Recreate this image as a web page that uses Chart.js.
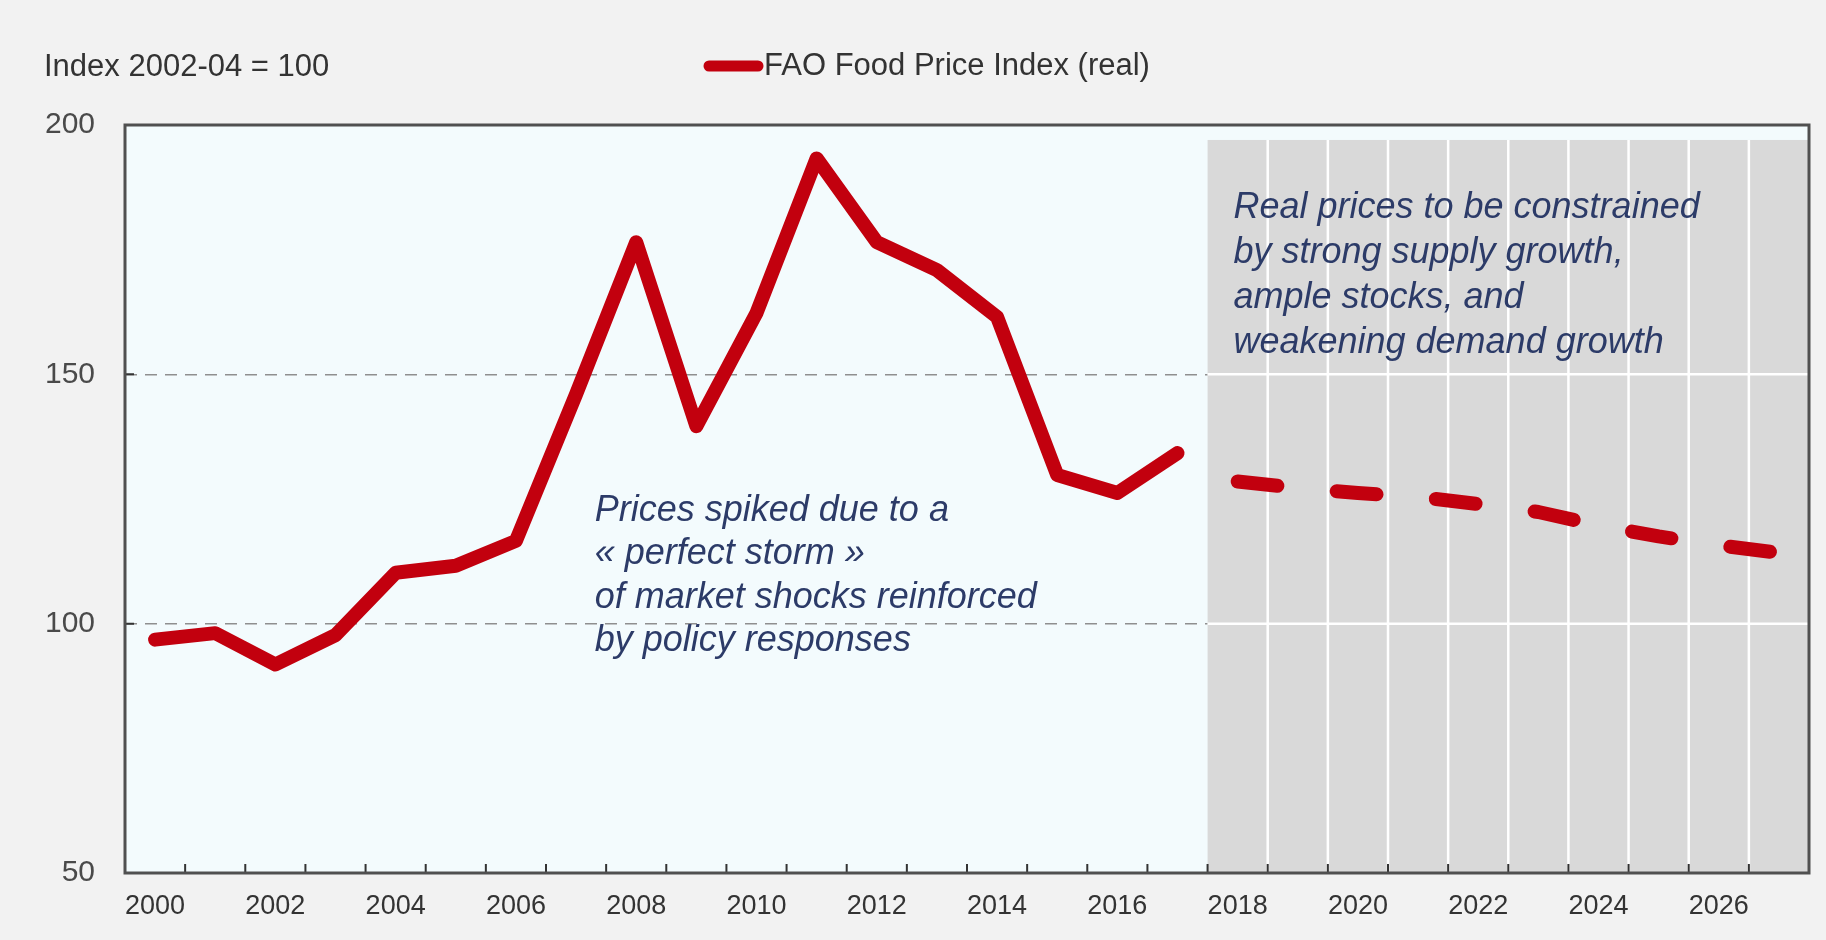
<!DOCTYPE html>
<html>
<head>
<meta charset="utf-8">
<script src="https://cdn.jsdelivr.net/npm/chart.js@4/dist/chart.umd.min.js"></script>
<style>
  html, body { margin: 0; padding: 0; background: #f2f2f2; }
  #wrap { width: 1826px; height: 940px; position: relative; }
</style>
</head>
<body>
<div id="wrap"><canvas id="chart"></canvas></div>
<script>
// years on the x axis (one band each)
const years = [
  "2000", "2001", "2002", "2003", "2004", "2005", "2006", "2007", "2008", "2009",
  "2010", "2011", "2012", "2013", "2014", "2015", "2016", "2017", "2018", "2019",
  "2020", "2021", "2022", "2023", "2024", "2025", "2026", "2027",
];
// only every second year gets a label
const tickLabels = [
  "2000", "2002", "2004", "2006", "2008", "2010", "2012",
  "2014", "2016", "2018", "2020", "2022", "2024", "2026",
];

// FAO Food Price Index (real), 2000-2017
const histYears = [
  "2000", "2001", "2002", "2003", "2004", "2005", "2006", "2007", "2008",
  "2009", "2010", "2011", "2012", "2013", "2014", "2015", "2016", "2017",
];
const histValues = [
  96.8, 98.1, 91.8, 97.7, 110.2, 111.6, 116.6, 146.0, 176.5,
  139.6, 162.3, 193.3, 176.5, 170.9, 161.5, 129.8, 126.2, 134.2,
];

// projection 2018-2027 (dashed)
const projYears = [
  "2018", "2019", "2020", "2021", "2022", "2023", "2024", "2025", "2026", "2027",
];
const projValues = [
  128.5, 127.2, 126.2, 125.4, 124.0, 122.4, 119.7, 117.5, 115.7, 114.2,
];

const yTicks = [50, 100, 150, 200];
const shadeTop = 197; // top of the grey projection box (index value)

const seriesName = "FAO Food Price Index (real)";
const unitLabel = "Index 2002-04 = 100";
const noteLeft = [
  "Prices spiked due to a",
  "\u00ab perfect storm \u00bb",
  "of market shocks reinforced",
  "by policy responses",
];
const noteRight = [
  "Real prices to be constrained",
  "by strong supply growth,",
  "ample stocks, and",
  "weakening demand growth",
];

const RED = "#c2000e";
const NAVY = "#2c3b68";
const FONT = '"Liberation Sans", Arial, sans-serif';

// map the year lists onto the full axis (null where the series is absent)
const histData = years.map((y) => {
  const i = histYears.indexOf(y);
  return i < 0 ? null : histValues[i];
});
const projData = years.map((y) => {
  const i = projYears.indexOf(y);
  return i < 0 ? null : projValues[i];
});

// pale plot background
const plotBg = {
  id: "plotBg",
  beforeDraw(chart) {
    const { ctx, chartArea: a } = chart;
    ctx.save();
    ctx.fillStyle = "#f3fbfd";
    ctx.fillRect(a.left, a.top, a.right - a.left, a.bottom - a.top);
    ctx.restore();
  },
};

// grey box behind the projection years, with white grid
const projShade = {
  id: "projShade",
  beforeDatasetsDraw(chart) {
    const { ctx, chartArea: a, scales } = chart;
    const x = scales.x;
    const y = scales.y;
    const first = years.indexOf(projYears[0]);
    const x0 = x.getPixelForValue(first - 0.5);
    const yTop = y.getPixelForValue(shadeTop);
    ctx.save();
    ctx.fillStyle = "#d9d9d9";
    ctx.fillRect(x0, yTop, a.right - x0, a.bottom - yTop);
    ctx.strokeStyle = "#ffffff";
    ctx.lineWidth = 2.5;
    ctx.beginPath();
    for (let i = first + 1; i < years.length; i++) {
      const px = x.getPixelForValue(i - 0.5);
      ctx.moveTo(px, yTop);
      ctx.lineTo(px, a.bottom);
    }
    [100, 150].forEach((v) => {
      const py = y.getPixelForValue(v);
      ctx.moveTo(x0, py);
      ctx.lineTo(a.right, py);
    });
    ctx.stroke();
    ctx.restore();
  },
};

// frame, inward tick marks, notes, legend and unit label
const decorations = {
  id: "decorations",
  afterDraw(chart) {
    const { ctx, chartArea: a, scales } = chart;
    const x = scales.x;
    const y = scales.y;
    ctx.save();

    // tick marks pointing into the plot
    ctx.strokeStyle = "#333333";
    ctx.lineWidth = 2;
    ctx.beginPath();
    for (let i = 0; i <= years.length; i++) {
      const px = x.getPixelForValue(i - 0.5);
      ctx.moveTo(px, a.bottom);
      ctx.lineTo(px, a.bottom - 9);
    }
    [100, 150].forEach((v) => {
      const py = y.getPixelForValue(v);
      ctx.moveTo(a.left, py);
      ctx.lineTo(a.left + 9, py);
    });
    ctx.stroke();

    // frame
    ctx.strokeStyle = "#505050";
    ctx.lineWidth = 3;
    ctx.strokeRect(a.left, a.top, a.right - a.left, a.bottom - a.top);

    // notes
    ctx.fillStyle = NAVY;
    ctx.font = "italic 36px " + FONT;
    ctx.textAlign = "left";
    ctx.textBaseline = "middle";
    let px = x.getPixelForValue(7.31);
    let py = y.getPixelForValue(122.6);
    noteLeft.forEach((t, i) => ctx.fillText(t, px, py + i * 43.5));
    px = x.getPixelForValue(17.93);
    py = y.getPixelForValue(183.3);
    noteRight.forEach((t, i) => ctx.fillText(t, px, py + i * 45));

    // unit label
    ctx.fillStyle = "#333333";
    ctx.font = "31px " + FONT;
    ctx.fillText(unitLabel, 44, 67);

    // legend
    const ds = chart.data.datasets[0];
    ctx.strokeStyle = ds.borderColor;
    ctx.lineWidth = 11;
    ctx.lineCap = "round";
    ctx.beginPath();
    ctx.moveTo(709, 66);
    ctx.lineTo(758, 66);
    ctx.stroke();
    ctx.fillText(ds.label, 764, 66);

    ctx.restore();
  },
};

const canvas = document.getElementById("chart");
canvas.width = 1826;
canvas.height = 940;

new Chart(canvas.getContext("2d"), {
  type: "line",
  data: {
    labels: years,
    datasets: [
      {
        label: seriesName,
        data: histData,
        borderColor: RED,
        backgroundColor: RED,
        borderWidth: 14,
        borderCapStyle: "round",
        borderJoinStyle: "round",
        pointRadius: 0,
        tension: 0,
        spanGaps: false,
      },
      {
        label: "Projection",
        data: projData,
        borderColor: RED,
        backgroundColor: RED,
        borderWidth: 14,
        borderDash: [40, 59.5],
        borderCapStyle: "round",
        borderJoinStyle: "round",
        pointRadius: 0,
        tension: 0,
        spanGaps: false,
      },
    ],
  },
  options: {
    responsive: false,
    animation: false,
    events: [],
    layout: { padding: { top: 125, right: 17, bottom: 0, left: 0 } },
    plugins: {
      legend: { display: false },
      tooltip: { enabled: false },
    },
    scales: {
      x: {
        type: "category",
        offset: true,
        grid: { display: false, drawTicks: false },
        border: { display: false },
        afterFit: (s) => { s.height = 67; },
        ticks: {
          autoSkip: false,
          maxRotation: 0,
          minRotation: 0,
          padding: 17,
          color: "#333333",
          font: { family: FONT, size: 27 },
          callback: (v, i) => (tickLabels.includes(years[i]) ? years[i] : ""),
        },
      },
      y: {
        min: 50,
        max: 200,
        afterFit: (s) => { s.width = 125; },
        afterBuildTicks: (s) => { s.ticks = yTicks.map((v) => ({ value: v })); },
        grid: {
          drawTicks: false,
          lineWidth: 1.5,
          color: (c) => (c.tick && (c.tick.value === 100 || c.tick.value === 150) ? "#8f8f8f" : "rgba(0,0,0,0)"),
        },
        border: { display: false, dash: [12, 8] },
        ticks: {
          padding: 30,
          color: "#4a4a4a",
          font: { family: FONT, size: 30 },
        },
      },
    },
  },
  plugins: [plotBg, projShade, decorations],
});
</script>
</body>
</html>
